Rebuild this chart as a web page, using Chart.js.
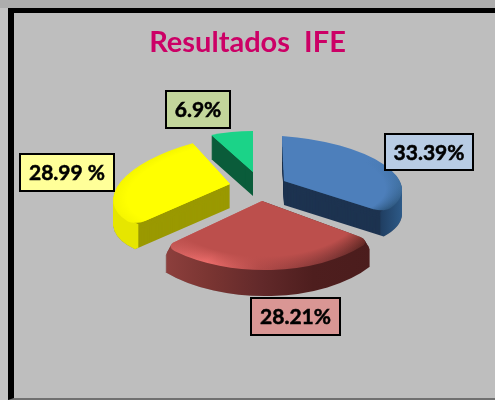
<!DOCTYPE html>
<html><head><meta charset="utf-8">
<script src="https://cdn.jsdelivr.net/npm/chart.js@4"></script>
<style>
html,body{margin:0;padding:0;width:495px;height:400px;overflow:hidden;background:#c3c3c3}
#top{position:absolute;left:0;top:0;width:495px;height:8px;background:#adadad}
#frame{position:absolute;left:8px;top:8px;width:487px;height:392px;box-sizing:border-box;background:#bebebe;border-left:6px solid #000;border-top:5px solid #000;border-bottom:2px solid #707070}
canvas{position:absolute;left:0;top:0}
</style></head><body>
<div id="top"></div><div id="frame"></div>
<canvas id="c" width="495" height="400"></canvas>
<script>
const categories = ["A", "B", "C", "D"];
const seriesValues = [33.39, 28.21, 28.99, 6.9];
const valueLabels = ["33.39%", "28.21%", "28.99 %", "6.9%"];
const titleText = "Resultados  IFE";

/* look of each slice: on-screen tilt, depth, corner rounding and colours */
const sliceLook = [
 {V:[284,181],U:[118,8],W:[-2,-45],depth:24,round:[0,14],main:"#4d7fbb",face:"#1d3350",
  rim:[[0,"#4d7fbb"],[.14,"#4d7fbb"],[.24,"#3f6f9f"],[.34,"#2a5278"]],
  wall:[[0,"#1f3d60"],[.9,"#1f3d60"],[1,"#2d5a88"]],rimStart:.86},
 {V:[262,201],U:[130,2],W:[1,-69],depth:26,round:[12,12],main:"#bc4f4c",face:"#5a2523",
  rim:[[.34,"#58241f"],[.4,"#7a3433"],[.5,"#b04a48"],[.57,"#ee6e6c"],[.63,"#c65a58"]],
  wall:[[0,"#9c4745"],[.3,"#7a3532"],[.5,"#62292a"],[.7,"#4e1e1e"],[1,"#4a1c1c"]],rimStart:.8},
 {V:[230,184],U:[116,-10],W:[14,-50],depth:24,round:[14,0],main:"#ffff00",face:"#9a9900",
  rim:[[0,"#f6f600"],[1,"#f6f600"]],
  wall:[[0,"#e6e600"],[1,"#e6e600"]],rimStart:.88},
 {V:[253,172],U:[97,0],W:[0,-41],depth:24,round:[0,0],main:"#1bd388",face:"#0a5c3a",
  rim:[[0,"#1bd388"],[1,"#1bd388"]],wall:[[0,"#0a5c3a"],[1,"#0a5c3a"]],rimStart:.9}
];
const labelBoxes = [
 {x:385,y:134,w:88,h:36,bg:"#b8cce4"},
 {x:251,y:298,w:89,h:37,bg:"#d99694"},
 {x:20,y:154,w:94,h:37,bg:"#ffff99"},
 {x:166,y:91,w:64,h:37,bg:"#c3d69b"}
];

function alpha0(hex){const n=parseInt(hex.slice(1),16);return `rgba(${n>>16},${(n>>8)&255},${n&255},0)`;}

const pie3d = {
  id:"pie3d",
  beforeDatasetsDraw(chart){
    const ctx = chart.ctx, els = chart.getDatasetMeta(0).data;
    [0,3,2,1].forEach(i=>{
      const el=els[i], L=sliceLook[i], R=el.outerRadius, cx=el.x, cy=el.y, orig=el.options;
      const paint=(fill,dy,inner,k)=>{
        ctx.save();
        const a=L.U[0]/R,b=L.U[1]/R,c=-L.W[0]/R,d=-L.W[1]/R;
        ctx.transform(a,b,c,d,L.V[0]-a*cx-c*cy,L.V[1]+dy-b*cx-d*cy);
        const o=Object.create(orig); o.backgroundColor=fill; o.borderWidth=0; o.borderColor="rgba(0,0,0,0)";
        o.borderRadius={outerStart:L.round[0]*k,outerEnd:L.round[1]*k,innerStart:0,innerEnd:0};
        el.options=o; const ir=el.innerRadius; el.innerRadius=inner||0;
        el.draw(ctx);
        el.options=orig; el.innerRadius=ir;
        ctx.restore();
      };
      const wall=ctx.createLinearGradient(cx-R,cy,cx+R,cy);
      L.wall.forEach(s=>wall.addColorStop(s[0],s[1]));
      for(let dy=L.depth;dy>=1;dy--) paint(L.face,dy,0,Math.max(0,1-dy/9));
      ctx.globalCompositeOperation="source-atop";
      for(let dy=L.depth;dy>=1;dy--) paint(wall,dy,R*0.96,0);
      ctx.globalCompositeOperation="source-over";
      const con=ctx.createConicGradient(-Math.PI/2,cx,cy);
      L.rim.forEach(s=>con.addColorStop(s[0],s[1]));
      paint(con,0,0,1);
      const rad=ctx.createRadialGradient(cx,cy,0,cx,cy,R);
      rad.addColorStop(0,L.main); rad.addColorStop(L.rimStart,L.main); rad.addColorStop(1,alpha0(L.main));
      paint(rad,0,0,1);
    });
    return false;
  },
  afterDraw(chart){
    const ctx=chart.ctx;
    valueLabels.forEach((t,i)=>{
      const b=labelBoxes[i];
      ctx.save();
      ctx.fillStyle=b.bg; ctx.fillRect(b.x,b.y,b.w,b.h);
      ctx.strokeStyle="#000"; ctx.lineWidth=2; ctx.strokeRect(b.x,b.y,b.w,b.h);
      ctx.fillStyle="#000"; ctx.font='bold 21px Lato, "Open Sans", sans-serif';
      ctx.textAlign="center"; ctx.textBaseline="middle";
      ctx.lineWidth=0.5; ctx.strokeText(t,b.x+b.w/2,b.y+b.h/2+1);
      ctx.fillText(t,b.x+b.w/2,b.y+b.h/2+1);
      ctx.restore();
    });
  }
};

new Chart(document.getElementById("c"),{
  type:"pie",
  data:{labels:categories,datasets:[{data:seriesValues,backgroundColor:sliceLook.map(s=>s.main),borderWidth:0}]},
  options:{
    responsive:false,animation:false,
    layout:{padding:{top:25,left:100,right:100,bottom:60}},
    plugins:{
      legend:{display:false},tooltip:{enabled:false},
      title:{display:true,text:titleText,color:"#cc0066",font:{family:'Lato, "Open Sans", sans-serif',size:29,weight:"bold"},padding:{top:0,bottom:10}}
    }
  },
  plugins:[pie3d]
});
</script>
</body></html>
